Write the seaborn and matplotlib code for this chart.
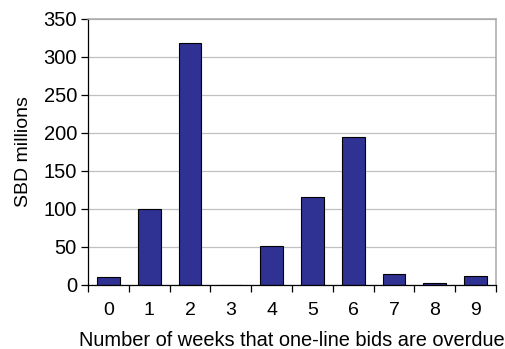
import matplotlib
matplotlib.use("Agg")
import matplotlib.pyplot as plt
import seaborn as sns
import pandas as pd
import numpy as np

weeks = ["0", "1", "2", "3", "4", "5", "6", "7", "8", "9"]
amounts = [10, 100, 318, 0, 51, 116, 195, 15, 3, 12]
y_ticks = [0, 50, 100, 150, 200, 250, 300, 350]

sns.set_theme(style="white")
plt.rcParams["font.family"] = ["Liberation Sans", "DejaVu Sans"]

df = pd.DataFrame({"week": weeks, "amount": amounts})

fig = plt.figure(figsize=(5.06, 3.49), dpi=100)
ax = fig.add_axes([88 / 506, 1 - 285 / 349, 408 / 506, 266 / 349])

sns.barplot(data=df, x="week", y="amount", ax=ax, color="#2f3193",
            saturation=1, width=0.56, edgecolor="black", linewidth=0.8,
            zorder=3)

ax.set_ylim(0, 350)
ax.set_xlim(-0.5, len(weeks) - 0.5)
ax.set_yticks(y_ticks)
ax.yaxis.grid(True, color="#c0c0c0", linewidth=0.9, zorder=0)
ax.set_axisbelow(True)

# tick marks sit between categories, labels centred under bars
ax.set_xticks(np.arange(len(weeks)))
ax.set_xticklabels(weeks)
ax.set_xticks(np.arange(-0.5, len(weeks)), minor=True)
ax.tick_params(axis="x", which="major", length=0, pad=12, labelsize=14,
               colors="black")
ax.tick_params(axis="x", which="minor", length=5, width=0.9, color="black",
               direction="out", bottom=True)
ax.tick_params(axis="y", length=5, width=0.9, color="black", direction="out",
               left=True, pad=3, labelsize=14.5, labelcolor="black")

for side in ("left", "bottom"):
    ax.spines[side].set_color("black")
    ax.spines[side].set_linewidth(0.9)
for side in ("top", "right"):
    ax.spines[side].set_visible(True)
    ax.spines[side].set_color("#a8a8a8")
    ax.spines[side].set_linewidth(1.1)
ax.spines["bottom"].set_zorder(4)

ax.set_xlabel("Number of weeks that one-line bids are overdue", fontsize=14.4,
              labelpad=9, color="black")
ax.set_ylabel("SBD millions", fontsize=14, labelpad=8, color="black")

fig.savefig("out.png", dpi=100, facecolor="white")
